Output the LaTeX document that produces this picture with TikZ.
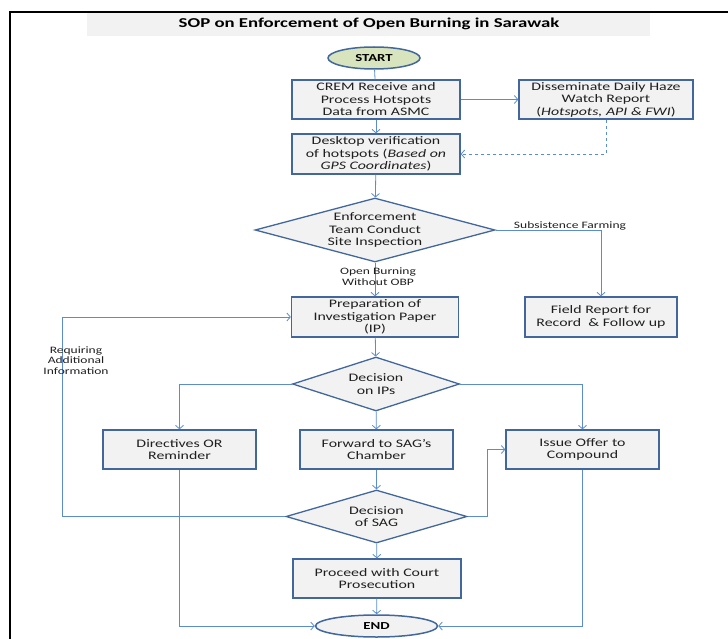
\documentclass[tikz,border=0pt]{standalone}
\usepackage{fontspec}
\setmainfont{Carlito}[FakeStretch=1.38]
\usetikzlibrary{shapes.geometric,arrows.meta}
\definecolor{bdr}{HTML}{41679C}
\definecolor{cn}{HTML}{5B8CCF}
\definecolor{bfill}{HTML}{F2F2F2}
\definecolor{sfill}{HTML}{D7E4BD}
\begin{document}
\begin{tikzpicture}[x=1pt,y=-1pt,
  txt/.style={font=\fontsize{11.5}{12.5}\selectfont,align=center,text=black!88},
  box/.style={txt,rectangle,draw=bdr,line width=1.3pt,fill=bfill,inner sep=0pt},
  dia/.style={txt,diamond,draw=bdr,line width=1.3pt,fill=bfill,inner sep=0pt},
  term/.style={ellipse,draw=bdr,line width=1.5pt,inner sep=0pt,font=\fontsize{10.7}{12}\selectfont\bfseries},
  lbl/.style={font=\fontsize{9.8}{10.8}\selectfont,align=center,text=black!88},
  conn/.style={draw=cn,line width=0.8pt},
  arr/.style={conn,-{Straight Barb[length=3.5pt,width=8pt]}}
]
\useasboundingbox (0,0) rectangle (728,639);
% frame and title band
\draw[line width=2pt] (10,639) -- (10,12) -- (728,12);
\fill[bfill] (87,13) rectangle (650,36);
\node[font=\fontsize{13.6}{15}\selectfont\bfseries] (title) at (369,23.5) {SOP on Enforcement of Open Burning in Sarawak};
% nodes
\node[term,fill=sfill,minimum width=92pt,minimum height=22pt] (start) at (374,58) {START};
\node[box,minimum width=168pt,minimum height=39pt] (b1) at (376,99.5) {CREM Receive and\\Process Hotspots\\Data from ASMC};
\node[box,minimum width=174pt,minimum height=39pt] (b2) at (606,99.5) {Disseminate Daily Haze\\Watch Report\\(\textit{Hotspots, API \& FWI})};
\node[box,minimum width=168pt,minimum height=40pt] (b3) at (376,154) {Desktop verification\\of hotspots (\textit{Based on}\\\textit{GPS Coordinates})};
\node[dia,minimum width=240pt,minimum height=64pt,shape aspect=3.75] (d1) at (375,230) {Enforcement\\Team Conduct\\Site Inspection};
\node[box,minimum width=152pt,minimum height=40pt] (fr) at (601,317) {Field Report for\\Record \ \& Follow up};
\node[box,minimum width=167pt,minimum height=40pt] (b4) at (375,317) {Preparation of\\Investigation Paper\\(IP)};
\node[dia,minimum width=167pt,minimum height=54pt,shape aspect=3.09] (d2) at (376,384) {Decision\\on IPs};
\node[box,minimum width=153pt,minimum height=39pt] (dir) at (179.5,449.5) {Directives OR\\Reminder};
\node[box,minimum width=153pt,minimum height=39pt] (fwd) at (376.5,449.5) {Forward to SAG’s\\Chamber};
\node[box,minimum width=153pt,minimum height=39pt] (iss) at (582.5,449.5) {Issue Offer to\\Compound};
\node[dia,minimum width=181pt,minimum height=53pt,shape aspect=3.4] (d3) at (376.5,516.5) {Decision\\of SAG};
\node[box,minimum width=168pt,minimum height=39pt] (pr) at (377,578.5) {Proceed with Court\\Prosecution};
\node[term,fill=bfill,minimum width=122pt,minimum height=22pt] (end) at (376.5,626) {END};
% helper coordinates
\coordinate (lp) at (62,516.5);
\coordinate (rp) at (487,516.5);
% connectors
\draw[conn] (start) -- (b1);
\draw[arr] (b1) -- (b3);
\draw[arr] (b1) -- (b2);
\draw[arr,dashed] (b2.south) |- (b3.east);
\draw[arr] (b3) -- (d1);
\draw[arr] (d1.east) -| (fr.north);
\draw[arr] (d1) -- (b4);
\draw[arr] (b4) -- (d2);
\draw[arr] (d2.west) -| (dir.north);
\draw[arr] (d2.east) -| (iss.north);
\draw[arr] (d2) -- (fwd);
\draw[arr] (fwd) -- (d3);
\draw[arr] (d3.west) -- (lp) |- (b4.west);
\draw[arr] (d3.east) -- (rp) |- (iss.west);
\draw[arr] (d3) -- (pr);
\draw[arr] (pr) -- (end);
\draw[arr] (dir.south) |- (end.west);
\draw[arr] (iss.south) |- (end.east);
% connector labels
\node[lbl] (l1) at (570,225.5) {Subsistence Farming};
\node[lbl] (l2) at (378,276.5) {Open Burning\\Without OBP};
\node[lbl] (l3) at (76,360.5) {Requiring\\Additional\\Information};
\end{tikzpicture}
\end{document}
